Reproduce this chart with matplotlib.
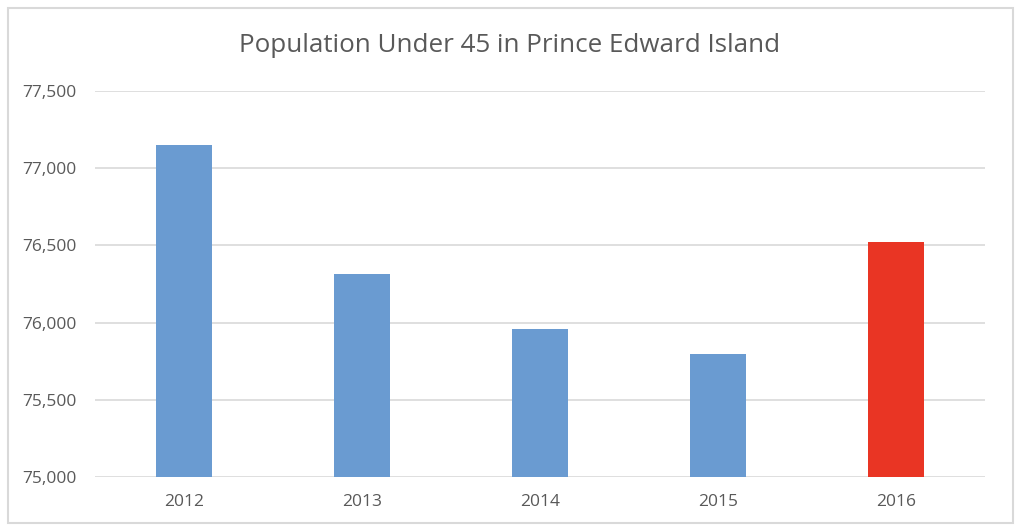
import matplotlib
matplotlib.use("Agg")
import matplotlib.pyplot as plt
from matplotlib.patches import Rectangle
from matplotlib.ticker import FuncFormatter

years = ["2012", "2013", "2014", "2015", "2016"]
population = [77148, 76318, 75957, 75795, 76520]
bar_colors = ["#6A9BD1", "#6A9BD1", "#6A9BD1", "#6A9BD1", "#E93524"]
y_ticks = [75000, 75500, 76000, 76500, 77000, 77500]

plt.rcParams['font.family'] = ['Open Sans', 'DejaVu Sans']

fig = plt.figure(figsize=(10.24, 5.31), dpi=100)
W, H = 1024, 531
# axes from x=95..985, y=91..477 in pixels
ax = fig.add_axes([95 / W, 1 - 477 / H, 890 / W, 386 / H])

ax.bar(years, population, width=0.318, color=bar_colors, zorder=3)
ax.set_ylim(75000, 77500)
ax.set_xlim(-0.5, 4.5)
ax.set_yticks(y_ticks)
ax.yaxis.set_major_formatter(FuncFormatter(lambda v, p: f"{int(v):,}"))
ax.grid(axis='y', color='#D9D9D9', linewidth=1.2, zorder=0)
for s in ax.spines.values():
    s.set_visible(False)
ax.tick_params(axis='both', length=0, colors='#595959', labelsize=12.5)
ax.tick_params(axis='y', pad=13)
ax.tick_params(axis='x', pad=12)

fig.text(510 / W, 1 - 46 / H, "Population Under 45 in Prince Edward Island",
         ha='center', va='center', fontsize=18.7, color='#595959')

fig.patches.append(Rectangle((8 / W, 1 - 523 / H), 1005 / W, 515 / H,
                             transform=fig.transFigure, fill=False,
                             edgecolor='#D9D9D9', linewidth=1.5))

fig.savefig("out.png", dpi=100)
